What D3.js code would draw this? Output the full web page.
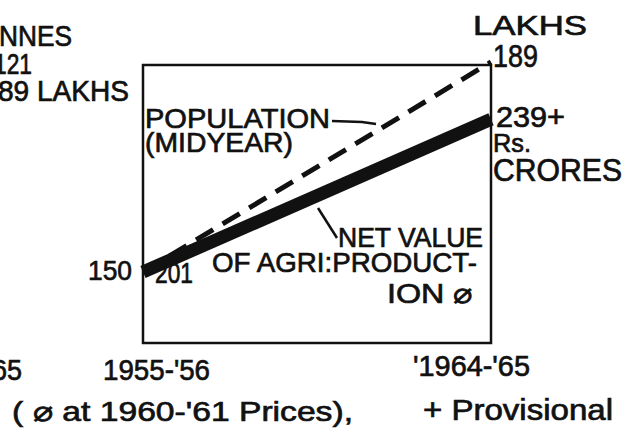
<!DOCTYPE html>
<html>
<head>
<meta charset="utf-8">
<script src="https://cdn.jsdelivr.net/npm/d3@7"></script>
<style>
  body { margin: 0; background: #fff; }
  text { font-family: "Liberation Sans", Arial, sans-serif; fill: #111; stroke: #111; stroke-width: 0.7; }
</style>
</head>
<body>
<script>
var years = ["1955-56", "1964-65"];
var population = [150, 189];   // lakhs, midyear
var agriValue = [201, 239];    // Rs. crores, at 1960-61 prices
var yearLabels = ["1955-'56", "'1964-'65"];

var w = 632, h = 443;

var svg = d3.select("body").append("svg").attr("width", w).attr("height", h);

// both series drawn as index (first year = 100) on one scale
var popIdx = population.map(function(v){ return v / population[0] * 100 });
var agriIdx = agriValue.map(function(v){ return v / agriValue[0] * 100 });

var x = d3.scalePoint().domain(years).range([143, 491]);
var y = d3.scaleLinear().domain([100, 126]).range([272, 62]);

function label(t, tx, ty, len, size) {
  var el = svg.append("text")
    .attr("x", tx).attr("y", ty)
    .attr("font-size", size)
    .text(t);
  if (len) el.attr("textLength", len).attr("lengthAdjust", "spacingAndGlyphs");
  return el;
}

// frame
svg.append("rect")
  .attr("x", x(years[0])).attr("y", 65)
  .attr("width", x(years[1]) - x(years[0])).attr("height", 343 - 65)
  .attr("fill", "none").attr("stroke", "#111").attr("stroke-width", 2.5);

var line = d3.line()
  .x(function(d, i){ return x(years[i]) })
  .y(function(d){ return y(d) });

svg.append("path").datum(popIdx)
  .attr("d", line)
  .attr("fill", "none").attr("stroke", "#111")
  .attr("stroke-width", 5).attr("stroke-dasharray", "20,11");

svg.append("path").datum(agriIdx)
  .attr("d", line)
  .attr("fill", "none").attr("stroke", "#111")
  .attr("stroke-width", 13);

// leader lines
svg.append("path").attr("d", "M332,121 L362,122 L376,124")
  .attr("fill", "none").attr("stroke", "#111").attr("stroke-width", 2.5);
svg.append("path").attr("d", "M318,208 L337,238")
  .attr("fill", "none").attr("stroke", "#111").attr("stroke-width", 2.5);

// fragments of the neighbouring chart at the left edge
label("NNES", -1, 46, 73, 29);
label("121", -6, 74, 38, 29);
label("89 LAKHS", -2, 101, 131, 29);
label("65", -8, 380, 30, 29);

// end values
label("LAKHS", 473, 35, 114, 28);
label(population[1], 493, y(popIdx[1]) + 5, 45, 32);
label(agriValue[1] + "+", 496, y(agriIdx[1]) + 8, 69, 29);
label("Rs.", 493, 152, 38, 26);
label("CRORES", 493, 181, 129, 31);

label(population[0], 88, y(popIdx[0]) + 8, 44, 28);
label(agriValue[0], 155, y(agriIdx[0]) + 11, 38, 29);

// series names
label("POPULATION", 145, 128, 185, 28);
label("(MIDYEAR)", 145, 152, 148, 28);
label("NET VALUE", 338, 247, 145, 28);
label("OF AGRI:PRODUCT-", 212, 272, 265, 28);
label("ION \u2300", 387, 303, 86, 28);

// years
label(yearLabels[0], x(years[0]) - 40, 380, 107, 30);
label(yearLabels[1], x(years[1]) - 78, 376, 117, 30);

// notes
label("( \u2300 at 1960-'61  Prices),", 12, 421, 341, 28);
label("+ Provisional", 423, 420, 190, 29);
</script>
</body>
</html>
